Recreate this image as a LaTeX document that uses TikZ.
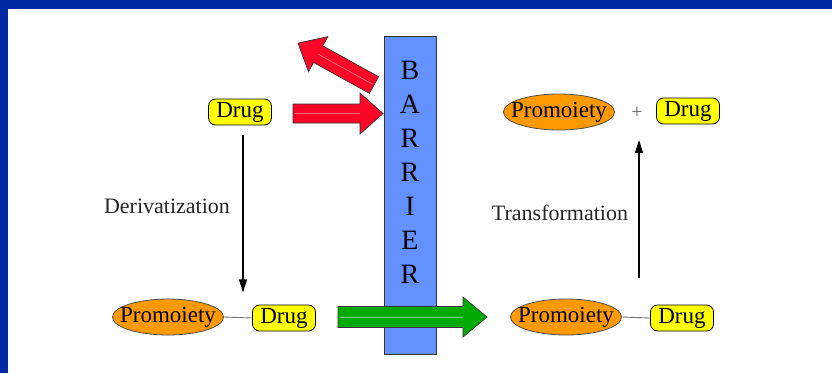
\documentclass[tikz,border=0pt]{standalone}
\usepackage{fontspec}
\setmainfont{Liberation Serif}
\usetikzlibrary{arrows.meta,shapes.geometric,calc}

\definecolor{frameblue}{RGB}{0,41,163}
\definecolor{barrierblue}{RGB}{99,145,255}
\definecolor{drugyellow}{RGB}{255,255,0}
\definecolor{moietyorange}{RGB}{255,153,0}
\definecolor{redarrow}{RGB}{255,5,40}
\definecolor{greenarrow}{RGB}{0,170,0}

\begin{document}
\begin{tikzpicture}[x=1pt,y=-1pt,
  drugbox/.style={draw=black, line width=0.8pt, fill=drugyellow, rounded corners=7pt,
    minimum width=63pt, minimum height=26pt, inner sep=0pt,
    font=\fontsize{23}{26}\selectfont, text=black},
  moiety/.style={ellipse, draw=black!70, line width=0.8pt, fill=moietyorange,
    minimum width=111pt, minimum height=36pt, inner xsep=-16pt, inner ysep=-10pt,
    font=\fontsize{23}{26}\selectfont, text=black},
  link/.style={draw=black!55, line width=0.9pt},
  flowarrow/.style={line width=1.2pt, -{Triangle[length=13pt,width=8pt]}},
  flowtext/.style={font=\fontsize{22}{26}\selectfont, text=black!85},
  barrierletter/.style={font=\fontsize{28}{30}\selectfont, text=black},
  pics/blockarrow/.style args={#1/#2/#3/#4/#5}{code={
    \filldraw[fill=#5, draw=black!80, line width=0.7pt, line join=miter]
      (0,-#2) -- (#1-#4,-#2) -- (#1-#4,-#3) -- (#1,0) -- (#1-#4,#3) -- (#1-#4,#2) -- (0,#2) -- cycle;
    \draw[white, opacity=0.4, line width=0.8pt] (1.5,0) -- (#1-#4,0);
  }}
]
% frame
\fill[frameblue] (0,0) rectangle (832,373);
\fill[white] (8,9) rectangle (832,373);
\useasboundingbox (0,0) rectangle (832,373);

% barrier
\node[draw=black!80, line width=0.9pt, fill=barrierblue, minimum width=52pt,
  minimum height=318pt, inner sep=0pt] (barrier) at (410,195) {};
\foreach \ch [count=\i from 0] in {B,A,R,R,I,E,R}
  \node[barrierletter] (bl\i) at (410,70+34*\i) {\ch};

% red arrows: blocked and reflected drug
\pic at (293,113.5) {blockarrow={90/9.5/20.5/23/redarrow}};
\pic[rotate=151.1] at (374,85) {blockarrow={86.8/9.5/20/23/redarrow}};

% green arrow: prodrug crossing the barrier
\pic at (338,317) {blockarrow={149/10.5/20/24/greenarrow}};

% molecules
\node[drugbox] (drugA) at (240,112) {Drug};
\node[moiety] (proA) at (168,317) {Promoiety};
\node[drugbox] (drugB) at (284,318) {Drug};
\node[moiety] (proB) at (559,112) {Promoiety};
\node[font=\fontsize{20}{24}\selectfont, text=black!60] (plus) at (637,113) {+};
\node[drugbox] (drugC) at (688,111) {Drug};
\node[moiety] (proC) at (566,317) {Promoiety};
\node[drugbox] (drugD) at (682,318) {Drug};

\draw[link] (proA.east) -- (drugB.west);
\draw[link] (proC.east) -- (drugD.west);

% derivatization
\coordinate (derivStart) at ([xshift=3pt,yshift=-10pt]drugA.south);
\coordinate (derivEnd) at ($(derivStart)+(0,157)$);
\draw[flowarrow] (derivStart) -- (derivEnd);
\node[flowtext] (derivText) at (167,206) {Derivatization};

% transformation
\coordinate (transStart) at (639,278);
\coordinate (transEnd) at (639,140);
\draw[flowarrow] (transStart) -- (transEnd);
\node[flowtext] (transText) at (560,213) {Transformation};
\end{tikzpicture}
\end{document}
